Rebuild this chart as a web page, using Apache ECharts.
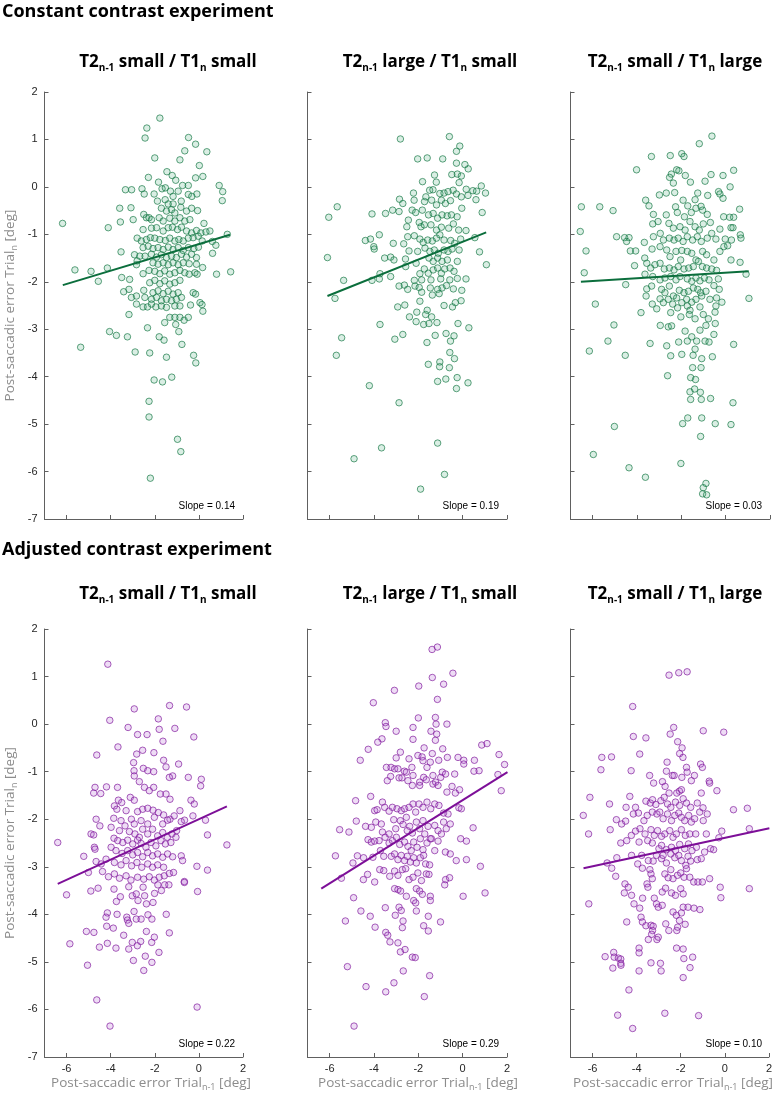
<!DOCTYPE html>
<html><head><meta charset="utf-8">
<script src="https://cdn.jsdelivr.net/npm/echarts@6/dist/echarts.min.js"></script>
<style>html,body{margin:0;padding:0;background:#fff}#c{width:775px;height:1093px}</style>
</head><body><div id="c"></div>
<script>
// ---------- DATA ----------
const rowTitles = ['Constant contrast experiment', 'Adjusted contrast experiment'];
const panelTitles = [
  ['T2', 'n-1', ' small / T1', 'n', ' small'],
  ['T2', 'n-1', ' large / T1', 'n', ' small'],
  ['T2', 'n-1', ' small / T1', 'n', ' large']
];
const slopes = [['0.14', '0.19', '0.03'], ['0.22', '0.29', '0.10']];
const xTicks = [-6, -4, -2, 0, 2];
const yTicks = [-7, -6, -5, -4, -3, -2, -1, 0, 1, 2];

const constSS = [[-1.77,1.45],[-2.36,1.24],[-2.44,1.03],[-0.47,1.04],[-0.15,0.90],[0.36,0.74],[-0.64,0.76],[-2.0,0.61],[-0.86,0.57],[0.02,0.45],[-1.45,0.32],[-2.29,0.20],[-1.21,0.24],[-1.05,0.14],[-0.15,0.19],[0.18,0.22],[-1.83,0.10],[0.92,0.03],[1.08,-0.10],[1.06,-0.29],[-0.74,0.03],[-0.48,0.03],[-3.33,-0.06],[-3.05,-0.06],[-2.58,-0.04],[-2.48,-0.15],[-2.03,-0.15],[-1.67,-0.04],[-1.52,-0.02],[-1.29,-0.09],[-1.17,-0.20],[-0.94,-0.09],[-0.48,-0.16],[-0.32,-0.20],[-0.09,-0.15],[-1.88,-0.30],[-1.53,-0.27],[-1.39,-0.36],[-1.17,-0.36],[-0.80,-0.30],[-3.59,-0.45],[-3.08,-0.44],[-1.70,-0.45],[-1.47,-0.51],[-1.24,-0.48],[-1.09,-0.55],[-0.82,-0.43],[-0.56,-0.51],[-0.33,-0.45],[-0.06,-0.50],[-2.98,-0.69],[-3.56,-0.74],[-2.50,-0.58],[-2.38,-0.65],[-2.26,-0.65],[-2.15,-0.69],[-1.80,-0.65],[-1.62,-0.72],[-1.32,-0.66],[-1.09,-0.72],[-0.86,-0.65],[-0.64,-0.72],[-0.41,-0.69],[0.23,-0.77],[-6.18,-0.77],[-4.11,-0.86],[-2.53,-0.90],[-2.15,-0.87],[-1.92,-0.86],[-1.62,-0.93],[-1.39,-0.86],[-1.20,-0.85],[-0.97,-0.90],[-0.79,-0.85],[-0.56,-0.93],[-0.33,-0.97],[-0.11,-0.92],[0.09,-0.97],[0.32,-0.95],[0.50,-0.93],[1.29,-1.00],[-2.80,-1.08],[-2.61,-1.14],[-2.38,-1.11],[-2.20,-1.07],[-2.00,-1.08],[-1.77,-1.11],[-1.52,-1.13],[-1.32,-1.08],[-1.09,-1.14],[-0.91,-1.11],[-0.71,-1.14],[-0.48,-1.08],[-0.26,-1.07],[-0.03,-1.04],[0.15,-1.14],[0.61,-1.15],[0.77,-1.23],[-2.53,-1.28],[-2.30,-1.25],[-2.08,-1.30],[-1.85,-1.28],[-1.62,-1.32],[-1.39,-1.27],[-1.17,-1.32],[-0.94,-1.28],[-0.71,-1.34],[-0.48,-1.28],[-0.23,-1.30],[-0.02,-1.27],[-3.53,-1.37],[-2.92,-1.43],[-2.68,-1.46],[-2.44,-1.46],[-2.15,-1.42],[-1.92,-1.48],[-1.70,-1.43],[-1.47,-1.49],[-1.24,-1.46],[-1.02,-1.49],[-0.79,-1.42],[-0.56,-1.48],[-0.33,-1.42],[-0.11,-1.49],[0.62,-1.40],[-2.80,-1.56],[-2.08,-1.60],[-1.85,-1.63],[-1.62,-1.60],[-1.39,-1.64],[-1.17,-1.60],[-0.94,-1.64],[-0.71,-1.60],[-0.44,-1.62],[-0.11,-1.63],[0.17,-1.70],[-5.62,-1.75],[-4.89,-1.78],[-4.15,-1.71],[-2.83,-1.64],[-2.53,-1.83],[-2.26,-1.76],[-2.00,-1.78],[-1.77,-1.83],[-1.55,-1.77],[-1.32,-1.84],[-1.09,-1.81],[-0.86,-1.76],[-0.64,-1.81],[-0.44,-1.84],[-0.18,-1.81],[-0.08,-1.84],[0.80,-1.84],[1.44,-1.79],[-4.56,-1.99],[-3.50,-1.91],[-3.14,-1.95],[-2.23,-2.02],[-2.00,-1.97],[-1.77,-2.04],[-1.55,-1.98],[-1.32,-2.05],[-1.09,-2.02],[-0.86,-1.97],[-3.41,-2.21],[-3.17,-2.16],[-2.50,-2.18],[-2.08,-2.23],[-1.85,-2.19],[-1.62,-2.25],[-1.39,-2.20],[-1.17,-2.26],[-0.94,-2.23],[-0.26,-2.23],[-0.15,-2.26],[-3.06,-2.33],[-2.83,-2.30],[-2.45,-2.33],[-2.15,-2.37],[-1.92,-2.33],[-1.70,-2.40],[-1.47,-2.37],[-1.24,-2.40],[-1.02,-2.37],[-0.79,-2.33],[0.05,-2.44],[-2.83,-2.47],[-2.53,-2.53],[-2.33,-2.53],[-2.15,-2.47],[-1.95,-2.53],[-1.70,-2.51],[-1.47,-2.54],[-1.09,-2.51],[-0.86,-2.51],[-0.38,-2.49],[0.14,-2.48],[0.18,-2.62],[-3.17,-2.69],[-1.55,-2.86],[-1.32,-2.75],[-1.09,-2.75],[-1.05,-2.90],[-0.86,-2.75],[-0.67,-2.81],[-0.48,-2.75],[-2.33,-2.97],[-4.05,-3.05],[-3.74,-3.13],[-3.24,-3.16],[-1.80,-3.16],[-1.58,-3.23],[-0.91,-3.05],[-0.77,-3.32],[-5.36,-3.38],[-2.89,-3.48],[-2.23,-3.50],[-1.47,-3.59],[-0.24,-3.55],[-0.14,-3.71],[-2.03,-4.07],[-1.65,-4.11],[-1.23,-4.01],[-2.26,-4.52],[-2.26,-4.85],[-0.97,-5.32],[-0.82,-5.58],[-2.20,-6.14]];

const constLS = [[-2.81,1.01],[-0.60,1.06],[-0.13,0.86],[-0.28,0.75],[-2.03,0.59],[-1.60,0.61],[-0.90,0.59],[-0.28,0.50],[0.10,0.47],[0.25,0.38],[-1.27,0.25],[-0.49,0.26],[-0.24,0.27],[-0.06,0.23],[-1.19,0.10],[-1.81,0.11],[-0.16,0.09],[0.84,0.02],[1.03,-0.13],[0.46,-0.08],[0.63,-0.09],[0.16,-0.05],[-1.49,-0.07],[-1.34,-0.06],[-1.03,-0.14],[-0.84,-0.13],[-0.66,-0.10],[-0.43,-0.07],[-0.28,-0.15],[-0.06,-0.21],[0.24,-0.18],[0.60,-0.27],[-2.22,-0.13],[-2.85,-0.26],[-2.70,-0.35],[-2.19,-0.28],[-1.72,-0.31],[-1.66,-0.21],[-1.40,-0.28],[-1.18,-0.38],[-0.96,-0.28],[-0.78,-0.35],[-0.55,-0.29],[-0.04,-0.45],[-5.66,-0.42],[-6.04,-0.64],[-4.09,-0.57],[-3.48,-0.56],[-3.16,-0.49],[-2.87,-0.52],[-2.28,-0.49],[-2.12,-0.54],[-1.82,-0.49],[-1.54,-0.59],[-1.33,-0.56],[-1.13,-0.66],[-0.93,-0.59],[-0.70,-0.61],[-0.51,-0.59],[-0.25,-0.63],[0.88,-0.54],[-2.45,-0.70],[-1.96,-0.75],[-1.88,-0.84],[-1.73,-0.80],[-1.43,-0.80],[-1.18,-0.91],[-0.96,-0.85],[-0.63,-0.87],[-0.42,-0.78],[-0.18,-0.91],[0.15,-0.92],[-2.52,-0.84],[-3.76,-1.01],[-4.39,-1.13],[-4.16,-1.10],[-4.01,-1.26],[-3.99,-1.31],[-3.13,-1.19],[-2.66,-1.20],[-2.48,-1.05],[-2.18,-1.03],[-1.93,-1.10],[-1.78,-1.17],[-1.58,-1.12],[-1.37,-1.14],[-1.18,-1.08],[-1.03,-1.01],[-0.84,-1.12],[-0.54,-1.13],[-0.36,-1.19],[-0.09,-1.10],[0.55,-1.07],[-2.42,-1.35],[-2.03,-1.36],[-1.70,-1.29],[-1.48,-1.36],[-1.28,-1.33],[-1.10,-1.40],[-0.84,-1.33],[-0.66,-1.36],[-0.48,-1.31],[-0.16,-1.33],[0.76,-1.37],[-6.10,-1.49],[-3.52,-1.50],[-3.25,-1.48],[-3.10,-1.54],[-2.58,-1.52],[-2.10,-1.61],[-1.52,-1.50],[-1.33,-1.57],[-1.13,-1.50],[-0.93,-1.57],[-0.69,-1.54],[-0.24,-1.57],[1.07,-1.64],[-2.57,-1.68],[-1.93,-1.83],[-1.73,-1.73],[-1.55,-1.82],[-1.33,-1.75],[-1.13,-1.71],[-0.96,-1.82],[-0.81,-1.73],[-0.57,-1.71],[-0.39,-1.78],[-3.73,-1.83],[-3.25,-1.89],[-5.37,-1.97],[-4.09,-1.97],[-3.76,-1.94],[-2.18,-1.97],[-1.85,-1.96],[-1.43,-1.96],[-0.99,-1.94],[-0.58,-1.96],[-0.24,-1.93],[0.15,-1.94],[-2.87,-2.09],[-2.63,-2.07],[-2.48,-2.16],[-2.15,-2.09],[-1.96,-2.12],[-1.46,-2.13],[-1.13,-2.16],[-0.93,-2.13],[-0.73,-2.08],[-0.42,-2.15],[-0.04,-2.18],[-1.85,-2.22],[-1.37,-2.28],[-1.06,-2.25],[-5.76,-2.35],[-1.93,-2.41],[-0.07,-2.40],[-0.33,-2.44],[-0.84,-2.50],[-0.46,-2.53],[-2.93,-2.53],[-2.61,-2.49],[-2.40,-2.74],[-2.10,-2.84],[-2.07,-2.64],[-1.76,-2.90],[-1.67,-2.69],[-1.52,-2.88],[-1.60,-2.60],[-1.40,-2.74],[-1.16,-2.86],[-0.21,-2.88],[0.28,-2.97],[-3.73,-2.90],[-5.46,-3.18],[-5.70,-3.55],[-3.06,-3.21],[-2.70,-3.11],[-1.24,-3.13],[-1.61,-3.28],[-0.75,-3.09],[-0.39,-3.14],[-0.55,-3.25],[-0.58,-3.49],[-0.37,-3.62],[-1.55,-3.74],[-1.03,-3.69],[-1.04,-3.79],[-0.60,-3.81],[-1.13,-4.10],[-0.76,-4.05],[-0.25,-4.02],[-0.28,-4.25],[0.24,-4.13],[-4.21,-4.19],[-2.87,-4.55],[-3.66,-5.50],[-4.90,-5.73],[-1.13,-5.40],[-0.82,-6.06],[-1.90,-6.37]];

const constSL = [[-0.62,1.07],[-1.19,0.91],[-3.35,0.64],[-2.50,0.66],[-1.98,0.70],[-1.88,0.64],[-4.02,0.36],[-2.21,0.36],[-2.11,0.34],[-2.45,0.27],[-1.82,0.24],[-0.66,0.26],[-0.12,0.24],[0.36,0.35],[-2.53,0.20],[-2.36,0.08],[-1.59,0.10],[-0.93,0.12],[0.20,0.00],[-2.99,-0.17],[-2.68,-0.13],[-2.30,-0.12],[-1.92,-0.28],[-1.71,-0.40],[-1.38,-0.27],[-1.26,-0.13],[-0.81,-0.18],[-0.32,-0.10],[-0.26,-0.15],[-0.12,-0.24],[-3.61,-0.28],[-3.46,-0.40],[-6.51,-0.42],[-5.68,-0.42],[-5.08,-0.50],[-3.26,-0.58],[-3.05,-0.73],[-2.68,-0.59],[-2.26,-0.42],[-2.18,-0.54],[-1.86,-0.63],[-1.55,-0.54],[-1.34,-0.45],[-1.11,-0.41],[-1.04,-0.49],[-0.83,-0.58],[-0.69,-0.75],[-0.09,-0.63],[0.18,-0.64],[0.36,-0.64],[0.63,-0.47],[-3.29,-0.78],[-2.95,-0.98],[-2.56,-0.77],[-2.36,-0.87],[-2.06,-0.84],[-1.83,-0.91],[-1.61,-0.73],[-1.38,-0.84],[-1.19,-0.91],[-1.01,-0.78],[-0.63,-0.98],[-0.26,-0.89],[0.24,-0.86],[0.33,-0.86],[-6.56,-0.94],[-4.92,-1.05],[-4.56,-1.07],[-4.36,-1.07],[-4.47,-1.15],[-3.26,-1.05],[-2.81,-1.12],[-2.54,-1.08],[-2.33,-1.12],[-2.14,-1.08],[-1.92,-1.15],[-1.73,-1.05],[-1.49,-1.12],[-1.28,-1.05],[-1.10,-1.15],[-0.83,-1.08],[-0.44,-1.10],[-0.02,-1.10],[0.26,-1.12],[0.66,-1.01],[0.69,-1.08],[-6.30,-1.35],[-4.30,-1.35],[-4.06,-1.35],[-3.67,-1.17],[-3.32,-1.31],[-2.96,-1.26],[-2.66,-1.33],[-2.51,-1.47],[-2.24,-1.36],[-2.03,-1.54],[-1.98,-1.34],[-1.73,-1.36],[-1.53,-1.40],[-1.34,-1.54],[-1.23,-1.57],[-1.04,-1.36],[-0.86,-1.43],[-0.53,-1.54],[-0.26,-1.36],[-0.08,-1.26],[0.09,-1.24],[0.24,-1.54],[0.65,-1.59],[-4.11,-1.66],[-3.65,-1.50],[-3.56,-1.61],[-3.38,-1.71],[-3.19,-1.64],[-2.96,-1.61],[-2.77,-1.73],[-2.54,-1.71],[-2.33,-1.75],[-2.14,-1.68],[-1.88,-1.73],[-1.67,-1.71],[-1.46,-1.68],[-1.05,-1.68],[-0.86,-1.71],[-0.63,-1.73],[-0.41,-1.76],[-6.38,-1.81],[-3.64,-1.84],[-3.29,-1.89],[-2.96,-1.96],[-2.74,-1.92],[-2.48,-1.89],[-2.24,-1.96],[-2.06,-1.89],[-1.73,-1.94],[-1.53,-1.99],[-1.34,-1.92],[-1.16,-1.98],[-0.96,-1.92],[-0.75,-1.96],[-0.33,-1.94],[0.92,-1.84],[-4.51,-2.06],[-3.56,-2.15],[-3.34,-2.09],[-2.89,-2.16],[-2.74,-2.23],[-2.54,-2.09],[-2.36,-2.30],[-2.09,-2.18],[-1.88,-2.23],[-1.68,-2.20],[-1.46,-2.13],[-1.26,-2.16],[-1.13,-2.23],[-0.89,-2.20],[-0.53,-2.08],[-0.29,-2.16],[1.05,-2.35],[-3.59,-2.30],[-2.96,-2.36],[-2.81,-2.44],[-2.59,-2.37],[-2.21,-2.34],[-1.98,-2.44],[-1.76,-2.37],[-1.53,-2.43],[-1.34,-2.37],[-1.08,-2.30],[-0.71,-2.37],[-0.41,-2.34],[-0.17,-2.43],[-5.88,-2.47],[-3.31,-2.47],[-3.11,-2.57],[-2.39,-2.47],[-2.17,-2.55],[-1.73,-2.51],[-1.61,-2.60],[-1.16,-2.53],[-0.44,-2.51],[-3.82,-2.65],[-2.48,-2.65],[-2.02,-2.74],[-1.64,-2.69],[-1.38,-2.78],[-1.01,-2.69],[-0.78,-2.78],[-0.48,-2.64],[-5.04,-2.91],[-2.95,-2.92],[-2.59,-2.95],[-2.44,-2.93],[-1.83,-3.04],[-1.16,-3.02],[-0.89,-2.92],[-0.53,-3.11],[-0.47,-2.88],[-3.41,-3.30],[-2.66,-3.35],[-2.12,-3.27],[-1.73,-3.25],[-1.53,-3.16],[-1.31,-3.25],[-0.93,-3.25],[-0.75,-3.27],[-5.31,-3.25],[-6.15,-3.46],[-4.53,-3.55],[-2.48,-3.56],[-1.98,-3.53],[-1.47,-3.55],[-1.38,-3.42],[-1.08,-3.62],[-0.60,-3.58],[0.36,-3.32],[-1.49,-3.81],[-1.11,-3.81],[-2.62,-3.98],[-1.58,-4.02],[-1.36,-4.06],[-1.61,-4.32],[-1.40,-4.26],[-1.58,-4.48],[-1.10,-4.48],[-1.14,-4.33],[-0.68,-4.46],[0.33,-4.55],[-1.71,-4.87],[-1.08,-4.87],[-1.94,-4.99],[-0.47,-4.99],[0.24,-5.01],[-5.02,-5.05],[-1.13,-5.26],[-5.97,-5.64],[-4.36,-5.92],[-3.62,-6.12],[-2.02,-5.83],[-0.89,-6.25],[-1.01,-6.34],[-1.04,-6.47],[-0.86,-6.49]];

const adjSS = [[-4.13,1.26],[-4.04,0.08],[-2.93,0.32],[-1.33,0.39],[-0.56,0.36],[-3.21,-0.07],[-2.78,-0.22],[-2.35,-0.22],[-1.84,0.11],[-1.80,-0.11],[-1.09,-0.09],[-1.63,-0.36],[-0.23,-0.27],[-4.63,-0.65],[-3.67,-0.48],[-2.82,-0.63],[-2.55,-0.55],[-2.04,-0.60],[-1.60,-0.76],[-1.49,-0.90],[-0.92,-0.84],[-2.96,-0.81],[-2.94,-0.98],[-2.52,-0.93],[-2.32,-0.98],[-2.05,-1.00],[-2.93,-1.09],[-1.19,-1.09],[-1.34,-1.12],[-0.48,-1.12],[0.11,-1.16],[0.08,-1.30],[-4.71,-1.33],[-4.77,-1.45],[-4.45,-1.46],[-4.19,-1.32],[-3.69,-1.33],[-2.70,-1.21],[-2.47,-1.33],[-2.25,-1.40],[-2.05,-1.33],[-1.75,-1.47],[-1.49,-1.47],[-1.31,-1.58],[-3.11,-1.54],[-2.93,-1.60],[-3.65,-1.60],[-3.50,-1.65],[-0.36,-1.60],[-0.21,-1.68],[-3.83,-1.72],[-3.72,-1.79],[-3.30,-1.82],[-2.78,-1.84],[-2.55,-1.79],[-2.32,-1.77],[-2.08,-1.81],[-1.84,-1.86],[-1.60,-1.91],[-1.31,-2.00],[-1.12,-1.93],[-0.86,-1.82],[-0.65,-2.02],[-0.27,-1.93],[-4.66,-2.00],[-4.49,-2.14],[-3.86,-1.98],[-3.53,-2.03],[-3.06,-2.00],[-2.93,-2.10],[-2.62,-2.03],[-2.32,-2.10],[-2.02,-1.96],[-1.64,-2.10],[-1.42,-2.02],[-0.80,-2.05],[0.30,-2.02],[-3.98,-2.17],[-3.60,-2.24],[-3.35,-2.14],[-3.15,-2.26],[-2.90,-2.31],[-2.70,-2.38],[-2.55,-2.21],[-2.32,-2.31],[-2.10,-2.21],[-1.87,-2.35],[-1.64,-2.28],[-1.43,-2.38],[-1.22,-2.31],[-1.01,-2.24],[-4.89,-2.31],[-4.77,-2.33],[-3.85,-2.40],[-3.68,-2.45],[-3.45,-2.49],[-3.23,-2.44],[-3.00,-2.52],[-2.78,-2.44],[-2.62,-2.51],[-2.40,-2.59],[-2.17,-2.49],[-1.95,-2.56],[-1.72,-2.45],[-1.52,-2.52],[-1.27,-2.49],[-1.04,-2.38],[0.39,-2.33],[-6.40,-2.49],[1.27,-2.54],[-4.74,-2.59],[-4.71,-2.63],[-3.98,-2.59],[-3.76,-2.66],[-3.48,-2.72],[-3.23,-2.66],[-3.00,-2.75],[-2.78,-2.70],[-2.55,-2.79],[-2.32,-2.70],[-2.10,-2.77],[-1.87,-2.73],[-1.64,-2.80],[-1.42,-2.73],[-1.19,-2.79],[-0.80,-2.77],[-5.22,-2.78],[-4.66,-2.89],[-4.43,-2.94],[-4.21,-2.84],[-3.83,-2.91],[-3.53,-2.96],[-3.30,-2.87],[-3.05,-2.98],[-2.81,-2.91],[-2.59,-3.01],[-2.32,-2.94],[-2.10,-3.01],[-1.87,-2.96],[-1.60,-3.01],[-0.74,-2.87],[-0.09,-2.99],[0.39,-3.07],[-5.01,-3.12],[-4.37,-3.10],[-4.10,-3.21],[-3.83,-3.15],[-3.60,-3.24],[-3.30,-3.19],[-3.08,-3.28],[-2.78,-3.22],[-2.50,-3.26],[-2.25,-3.21],[-2.02,-3.28],[-1.80,-3.22],[-1.57,-3.19],[-1.34,-3.14],[-1.15,-3.12],[-0.66,-3.31],[-6.00,-3.59],[-4.90,-3.51],[-4.57,-3.45],[-3.85,-3.47],[-3.56,-3.63],[-3.74,-3.73],[-3.18,-3.42],[-3.02,-3.61],[-2.84,-3.57],[-2.76,-3.71],[-2.53,-3.43],[-2.46,-3.61],[-2.38,-3.78],[-2.08,-3.75],[-2.01,-3.56],[-1.86,-3.38],[-1.70,-3.50],[-1.55,-3.38],[-1.36,-3.38],[-0.66,-3.33],[-0.06,-3.52],[-2.94,-3.94],[-2.31,-4.01],[-2.13,-4.10],[-1.48,-4.00],[-1.34,-4.39],[-4.15,-3.97],[-4.21,-4.06],[-4.18,-4.25],[-3.88,-4.29],[-3.71,-4.00],[-3.27,-4.06],[-3.24,-4.12],[-3.18,-4.19],[-2.84,-4.10],[-2.62,-4.10],[-5.85,-4.62],[-5.10,-4.36],[-4.76,-4.38],[-4.51,-4.69],[-4.15,-4.61],[-3.76,-4.71],[-3.41,-4.44],[-3.18,-4.73],[-3.02,-4.59],[-2.79,-4.66],[-2.64,-4.57],[-2.38,-4.36],[-2.14,-4.59],[-2.02,-4.48],[-1.81,-4.80],[-2.97,-4.97],[-2.43,-4.88],[-2.13,-5.01],[-5.05,-5.07],[-2.50,-5.18],[-4.63,-5.80],[-4.03,-6.35],[-0.08,-5.95]];

const adjLS = [[-1.38,1.57],[-1.14,1.62],[-1.37,0.98],[-0.44,1.07],[-3.08,0.71],[-1.98,0.80],[-0.86,0.84],[-4.03,0.45],[-1.14,0.52],[-3.49,0.03],[-3.46,-0.05],[-3.00,-0.15],[-2.00,0.13],[-1.23,0.14],[-1.20,0.00],[-0.71,0.00],[-2.24,-0.07],[-1.43,-0.15],[-1.17,-0.21],[-3.64,-0.31],[-3.83,-0.38],[-2.24,-0.32],[-1.23,-0.34],[-4.26,-0.53],[-4.62,-0.76],[-2.81,-0.59],[-1.74,-0.50],[-0.90,-0.52],[0.86,-0.44],[1.10,-0.41],[1.64,-0.64],[1.89,-0.85],[-3.44,-0.91],[-3.23,-0.91],[-3.07,-0.94],[-2.92,-0.94],[-2.63,-0.99],[-3.40,-1.19],[-3.25,-1.10],[-3.00,-0.71],[-2.42,-0.73],[-2.02,-0.66],[-1.83,-0.69],[-1.79,-0.77],[-1.61,-0.91],[-1.46,-0.80],[-1.37,-0.62],[-1.08,-0.76],[-0.69,-0.70],[-0.21,-0.70],[0.05,-0.76],[0.05,-0.84],[0.53,-0.76],[0.74,-0.98],[1.59,-1.06],[1.74,-1.40],[-2.87,-1.13],[-2.74,-1.13],[-2.54,-1.01],[-2.29,-0.91],[-2.24,-1.08],[-2.47,-1.19],[-2.27,-1.29],[-1.94,-1.22],[-1.94,-1.29],[-1.76,-1.12],[-1.64,-1.17],[-1.34,-1.08],[-1.34,-1.26],[-1.22,-1.22],[-1.11,-1.29],[-0.99,-1.12],[-0.92,-1.01],[-0.77,-1.05],[-0.36,-1.05],[-0.71,-1.43],[-0.48,-1.31],[-0.33,-1.45],[-0.14,-1.38],[0.51,-0.99],[-4.15,-1.52],[-4.83,-1.61],[-3.97,-1.82],[-3.86,-1.80],[-3.62,-1.64],[-3.52,-1.75],[-3.32,-1.83],[-3.17,-1.75],[-2.96,-1.78],[-2.77,-1.82],[-2.62,-1.78],[-2.42,-1.75],[-2.24,-1.68],[-2.12,-1.85],[-1.97,-1.68],[-1.79,-1.75],[-1.61,-1.64],[-1.44,-1.78],[-1.26,-1.68],[-1.07,-1.71],[-0.86,-1.87],[-0.66,-1.89],[-0.17,-1.76],[-0.06,-1.78],[-4.80,-2.04],[-5.55,-2.22],[-5.13,-2.27],[-4.38,-2.15],[-4.12,-2.17],[-3.92,-2.06],[-3.67,-2.10],[-3.62,-2.27],[-3.32,-2.31],[-3.11,-2.01],[-3.02,-2.20],[-2.81,-2.03],[-2.69,-2.11],[-2.54,-1.96],[-2.50,-2.24],[-2.39,-2.15],[-2.27,-2.29],[-2.09,-2.06],[-1.94,-2.20],[-1.79,-2.03],[-1.71,-2.31],[-1.56,-2.15],[-1.41,-2.41],[-1.26,-2.13],[-1.11,-2.24],[-0.96,-2.31],[-0.86,-2.06],[-0.74,-2.20],[-0.56,-2.10],[0.47,-2.18],[-4.27,-2.43],[-4.12,-2.48],[-3.97,-2.46],[-3.77,-2.45],[-3.71,-2.66],[-3.50,-2.38],[-3.32,-2.50],[-3.17,-2.45],[-2.99,-2.38],[-2.84,-2.53],[-2.62,-2.48],[-2.47,-2.57],[-2.32,-2.66],[-2.21,-2.48],[-2.06,-2.59],[-1.91,-2.41],[-1.79,-2.64],[-1.61,-2.50],[-1.46,-2.41],[-1.26,-2.66],[-1.11,-2.46],[-0.78,-2.69],[-0.56,-2.73],[-0.09,-2.41],[0.17,-2.46],[-5.74,-2.77],[-4.95,-2.92],[-4.75,-2.77],[-4.47,-2.81],[-4.05,-2.80],[-3.56,-2.78],[-3.22,-2.78],[-3.07,-2.73],[-2.92,-2.85],[-2.77,-2.76],[-2.62,-2.87],[-2.50,-2.78],[-2.36,-2.90],[-2.21,-2.81],[-2.09,-2.92],[-1.91,-2.81],[-1.76,-2.76],[-1.67,-2.94],[-1.49,-2.96],[-0.29,-2.87],[0.17,-2.85],[0.80,-2.99],[-5.47,-3.24],[-4.48,-3.27],[-4.29,-3.16],[-3.97,-3.32],[-3.74,-3.06],[-3.56,-3.08],[-3.29,-3.20],[-3.07,-3.09],[-2.92,-3.18],[-2.72,-3.06],[-2.57,-3.04],[-2.42,-3.27],[-2.24,-3.22],[-2.02,-3.13],[-1.86,-3.29],[-1.64,-3.15],[-1.52,-3.16],[-0.77,-3.27],[-0.59,-3.23],[-0.81,-3.38],[-3.07,-3.46],[-2.92,-3.48],[-2.80,-3.51],[-2.54,-3.62],[-2.09,-3.46],[-1.94,-3.51],[-1.82,-3.58],[-1.46,-3.62],[-1.46,-3.71],[-2.21,-3.71],[-2.12,-3.76],[-2.09,-3.93],[-4.92,-3.65],[0.02,-3.62],[1.01,-3.55],[-4.59,-3.93],[-3.49,-3.86],[-2.87,-3.85],[-3.04,-4.02],[-2.77,-3.92],[-2.69,-4.14],[-1.55,-4.04],[-1.00,-4.16],[-5.29,-4.14],[-4.17,-4.04],[-3.95,-4.27],[-3.47,-4.38],[-3.38,-4.44],[-3.28,-4.58],[-2.92,-4.60],[-2.72,-4.28],[-2.60,-4.74],[-2.81,-4.79],[-2.27,-4.90],[-2.14,-4.91],[-1.76,-4.24],[-1.55,-4.35],[-2.68,-5.19],[-1.49,-5.29],[-5.20,-5.10],[-4.36,-5.52],[-3.47,-5.63],[-3.10,-5.44],[-1.73,-5.73],[-4.90,-6.35]];

const adjSL = [[-2.53,1.03],[-2.09,1.08],[-1.71,1.10],[-4.18,0.37],[-2.32,-0.07],[-0.98,-0.14],[-0.05,-0.17],[-2.48,-0.21],[-4.15,-0.26],[-3.58,-0.29],[-2.14,-0.37],[-1.94,-0.50],[-2.05,-0.62],[-1.90,-0.70],[-5.58,-0.70],[-5.14,-0.69],[-3.86,-0.63],[-2.62,-0.80],[-5.62,-0.96],[-4.25,-0.98],[-2.65,-0.99],[-1.74,-0.91],[-1.71,-1.01],[-3.41,-1.08],[-2.38,-1.08],[-2.30,-1.08],[-1.95,-1.12],[-1.38,-1.08],[-1.10,-0.84],[-1.02,-0.91],[-1.52,-1.19],[-3.23,-1.24],[-2.83,-1.21],[-2.71,-1.31],[-2.06,-1.41],[-2.18,-1.45],[-1.97,-1.38],[-2.53,-1.45],[-0.71,-1.20],[-0.69,-1.24],[-0.36,-1.40],[-1.07,-1.45],[-6.12,-1.54],[-5.23,-1.68],[-4.31,-1.52],[-4.05,-1.75],[-4.48,-1.75],[-3.58,-1.62],[-3.38,-1.66],[-3.28,-1.59],[-3.13,-1.69],[-2.90,-1.61],[-2.75,-1.54],[-2.60,-1.68],[-2.45,-1.75],[-2.24,-1.64],[-2.05,-1.71],[-1.89,-1.57],[-1.74,-1.66],[-1.55,-1.75],[-1.25,-1.66],[-1.14,-1.85],[-0.99,-1.76],[0.39,-1.80],[1.02,-1.77],[-6.42,-1.92],[-4.92,-2.01],[-4.68,-2.10],[-4.50,-2.04],[-4.15,-1.89],[-3.92,-1.87],[-3.67,-2.03],[-3.52,-1.92],[-3.29,-1.85],[-3.08,-1.89],[-2.95,-1.85],[-2.80,-1.99],[-2.60,-1.89],[-2.42,-2.03],[-2.27,-1.92],[-2.09,-1.87],[-1.97,-1.96],[-1.82,-2.03],[-1.64,-1.92],[-1.52,-2.06],[-1.37,-1.99],[-0.98,-2.03],[-0.80,-1.89],[-5.20,-2.22],[-6.18,-2.31],[-4.24,-2.34],[-4.05,-2.25],[-3.85,-2.20],[-3.62,-2.31],[-3.35,-2.22],[-3.20,-2.34],[-3.05,-2.24],[-2.87,-2.36],[-2.72,-2.31],[-2.50,-2.24],[-2.35,-2.38],[-2.20,-2.31],[-1.97,-2.22],[-1.79,-2.34],[-1.59,-2.31],[-1.32,-2.31],[-0.84,-2.31],[-0.14,-2.25],[1.11,-2.20],[-0.27,-2.39],[-4.72,-2.50],[-4.45,-2.45],[-3.89,-2.48],[-3.50,-2.45],[-3.29,-2.50],[-2.99,-2.62],[-2.87,-2.55],[-2.65,-2.64],[-2.42,-2.59],[-2.24,-2.66],[-2.05,-2.53],[-1.82,-2.62],[-1.65,-2.52],[-1.49,-2.66],[-1.29,-2.59],[-0.92,-2.69],[-0.65,-2.62],[-0.51,-2.64],[-4.90,-2.81],[-5.34,-2.92],[-5.13,-3.03],[-4.95,-3.20],[-4.23,-2.76],[-3.95,-2.94],[-3.77,-2.76],[-3.74,-3.03],[-3.47,-2.87],[-3.25,-2.88],[-3.10,-2.76],[-2.87,-2.83],[-2.80,-2.76],[-2.65,-2.92],[-2.45,-2.73],[-2.27,-2.81],[-2.09,-2.76],[-1.97,-2.87],[-1.77,-2.97],[-1.67,-2.78],[-1.55,-2.88],[-1.25,-2.85],[-1.07,-2.83],[-1.74,-3.04],[-3.40,-3.06],[-3.35,-3.15],[-3.29,-3.25],[-3.53,-3.36],[-3.49,-3.43],[-2.72,-3.15],[-2.57,-3.23],[-2.45,-3.06],[-2.35,-3.25],[-2.15,-3.18],[-2.00,-3.13],[-1.85,-3.22],[-1.59,-3.22],[-1.41,-3.32],[-1.22,-3.32],[-1.02,-3.32],[-0.69,-3.25],[-4.53,-3.36],[-4.38,-3.43],[-4.56,-3.55],[-4.23,-3.60],[-3.73,-3.66],[-3.20,-3.66],[-2.84,-3.53],[-2.69,-3.45],[-2.42,-3.55],[-2.24,-3.60],[-2.00,-3.46],[-1.89,-3.57],[-0.21,-3.43],[-0.18,-3.65],[1.11,-3.46],[-6.17,-3.78],[-4.12,-3.78],[-3.86,-3.87],[-3.10,-3.78],[-3.02,-3.85],[-2.84,-3.81],[-2.35,-3.95],[-2.20,-4.02],[-1.97,-3.97],[-1.89,-3.85],[-1.67,-3.85],[-1.40,-3.87],[-1.13,-3.90],[-4.45,-4.16],[-3.80,-4.06],[-3.74,-4.16],[-3.58,-4.24],[-3.35,-4.23],[-3.28,-4.34],[-3.25,-4.25],[-3.32,-4.42],[-3.47,-4.53],[-3.08,-4.53],[-3.02,-4.48],[-2.68,-4.20],[-2.54,-4.34],[-2.18,-4.34],[-2.14,-4.27],[-2.06,-4.13],[-1.80,-4.21],[-2.19,-4.71],[-1.89,-4.73],[-5.43,-4.89],[-5.04,-4.80],[-5.02,-4.90],[-4.83,-4.92],[-4.72,-4.94],[-4.72,-5.03],[-4.71,-5.07],[-5.08,-5.13],[-3.89,-4.71],[-3.89,-4.81],[-3.89,-5.19],[-3.35,-5.02],[-2.92,-5.03],[-2.89,-5.19],[-1.86,-4.93],[-1.58,-5.12],[-1.46,-4.90],[-1.89,-5.33],[-4.35,-5.59],[-4.86,-6.12],[-2.72,-6.08],[-1.19,-6.13],[-4.18,-6.40]];

// regression line end points [[x0,y0],[x1,y1]]
const fitConstSS = [[-6.17,-2.07],[1.41,-1.01]];
const fitConstLS = [[-6.10,-2.30],[1.06,-0.96]];
const fitConstSL = [[-6.53,-2.00],[1.04,-1.78]];
const fitAdjSS = [[-6.40,-3.36],[1.27,-1.73]];
const fitAdjLS = [[-6.38,-3.46],[2.02,-1.01]];
const fitAdjSL = [[-6.41,-3.03],[2.02,-2.19]];

const panelData = [[constSS, constLS, constSL], [adjSS, adjLS, adjSL]];
const panelFits = [[fitConstSS, fitConstLS, fitConstSL], [fitAdjSS, fitAdjLS, fitAdjSL]];

// ---------- LAYOUT / STYLE ----------
const COLS = [{left: 44.5, width: 198.5}, {left: 307.5, width: 199.5}, {left: 570.5, width: 199.5}];
const ROWS = [{top: 92, height: 427}, {top: 629, height: 428}];
const TITLE_X = [168, 430, 675];
const TITLE_Y = [62, 594];
const ROW_TITLE_Y = [12, 550];
const XTITLE_X = [151, 418, 673];
const XTITLE_Y = 1083;
const THEMES = [
  {line: '#0b6e3c', border: 'rgba(20,118,68,0.85)', fill: 'rgba(70,170,120,0.25)'},
  {line: '#7d0f98', border: 'rgba(128,24,156,0.85)', fill: 'rgba(180,100,210,0.28)'}
];
const AXIS_COLOR = '#606060';
const TICK_FONT = '"Liberation Sans", Arial, sans-serif';
const TEXT_FONT = '"Open Sans", "Noto Sans", sans-serif';

const grids = [], xAxes = [], yAxes = [], series = [], graphics = [];
let gi = 0;
for (let r = 0; r < 2; r++) {
  for (let c = 0; c < 3; c++) {
    grids.push({left: COLS[c].left, top: ROWS[r].top, width: COLS[c].width, height: ROWS[r].height, containLabel: false});
    xAxes.push({
      type: 'value', gridIndex: gi, min: -7, max: 2,
      splitLine: {show: false},
      axisLine: {show: true, onZero: false, lineStyle: {color: AXIS_COLOR, width: 1}},
      axisTick: {show: true, inside: true, length: 4, customValues: xTicks, lineStyle: {color: AXIS_COLOR}},
      axisLabel: {show: r === 1, customValues: xTicks, margin: 6, fontSize: 11, color: '#262626', fontFamily: TICK_FONT}
    });
    yAxes.push({
      type: 'value', gridIndex: gi, min: -7, max: 2, interval: 1,
      splitLine: {show: false},
      axisLine: {show: true, onZero: false, lineStyle: {color: AXIS_COLOR, width: 1}},
      axisTick: {show: true, inside: true, length: 4, lineStyle: {color: AXIS_COLOR}},
      axisLabel: {show: c === 0, margin: 7, fontSize: 11, color: '#262626', fontFamily: TICK_FONT,
        formatter: v => yTicks.indexOf(v) >= 0 ? String(v) : ''}
    });
    const th = THEMES[r];
    series.push({
      type: 'scatter', xAxisIndex: gi, yAxisIndex: gi, data: panelData[r][c],
      symbol: 'circle', symbolSize: 6.5, silent: true,
      itemStyle: {color: th.fill, borderColor: th.border, borderWidth: 1}
    });
    series.push({
      type: 'line', xAxisIndex: gi, yAxisIndex: gi, data: panelFits[r][c],
      symbol: 'none', silent: true, z: 5,
      lineStyle: {color: th.line, width: 2}
    });
    // panel title
    const pt = panelTitles[c];
    graphics.push({
      type: 'text', x: TITLE_X[c], y: TITLE_Y[r],
      style: {
        text: `{m|${pt[0]}}{s|${pt[1]}}{m|${pt[2]}}{s|${pt[3]}}{m|${pt[4]}}`,
        align: 'center', verticalAlign: 'middle',
        rich: {
          m: {fontSize: 17, fontWeight: 'bold', fontFamily: TEXT_FONT, fill: '#000', lineHeight: 22},
          s: {fontSize: 10, fontWeight: 'bold', fontFamily: TEXT_FONT, fill: '#000', lineHeight: 10, verticalAlign: 'bottom'}
        }
      }
    });
    // slope label
    graphics.push({
      type: 'text', x: COLS[c].left + COLS[c].width - 8, y: ROWS[r].top + ROWS[r].height - 13,
      style: {text: 'Slope = ' + slopes[r][c], align: 'right', verticalAlign: 'middle',
        fontSize: 10, fontFamily: TICK_FONT, fill: '#000'}
    });
    if (r === 1) {
      graphics.push({
        type: 'text', x: XTITLE_X[c], y: XTITLE_Y,
        style: {
          text: '{a|Post-saccadic error Trial}{s|n-1}{a| [deg]}',
          align: 'center', verticalAlign: 'middle',
          rich: {
            a: {fontSize: 13.5, fontFamily: TEXT_FONT, fill: '#8c8c8c', lineHeight: 18},
            s: {fontSize: 9, fontFamily: TEXT_FONT, fill: '#8c8c8c', lineHeight: 9, verticalAlign: 'bottom'}
          }
        }
      });
    }
    gi++;
  }
  // row title
  graphics.push({
    type: 'text', x: 2, y: ROW_TITLE_Y[r],
    style: {text: rowTitles[r], align: 'left', verticalAlign: 'middle',
      fontSize: 18, fontWeight: 'bold', fontFamily: TEXT_FONT, fill: '#000'}
  });
  // y axis title
  graphics.push({
    type: 'text', x: 10, y: ROWS[r].top + ROWS[r].height / 2, rotation: Math.PI / 2,
    style: {
      text: '{a|Post-saccadic error Trial}{s|n}{a| [deg]}',
      align: 'center', verticalAlign: 'middle',
      rich: {
        a: {fontSize: 13.5, fontFamily: TEXT_FONT, fill: '#8c8c8c', lineHeight: 18},
        s: {fontSize: 9, fontFamily: TEXT_FONT, fill: '#8c8c8c', lineHeight: 9, verticalAlign: 'bottom'}
      }
    }
  });
}

const chart = echarts.init(document.getElementById('c'), null, {renderer: 'canvas'});
chart.setOption({
  backgroundColor: '#fff',
  animation: false,
  grid: grids, xAxis: xAxes, yAxis: yAxes, series: series,
  graphic: graphics
});
</script>
</body></html>
